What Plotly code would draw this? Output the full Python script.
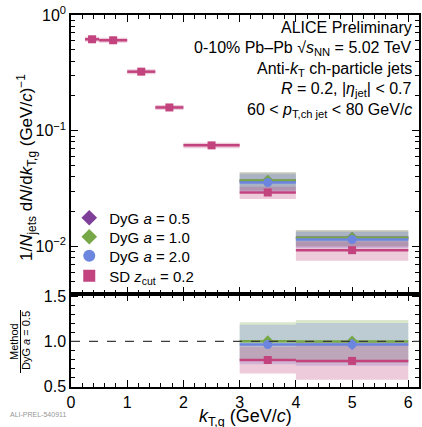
import plotly.graph_objects as go

# ---------------- data ----------------
bin_lo = [0.25, 0.5, 1.0, 1.5, 2.0, 3.0, 4.0]
bin_hi = [0.5, 1.0, 1.5, 2.0, 3.0, 4.0, 6.0]
sd_x = [0.375, 0.75, 1.25, 1.75, 2.5, 3.5, 5.0]
sd_y = [0.617, 0.605, 0.324, 0.159, 0.0748, 0.0293, 0.0093]
sd_stat = [0.010, 0.010, 0.005, 0.0025, 0.0012, 0.0008, 0.0004]
sd_sys_rel = [0.05, 0.05, 0.05, 0.05, 0.055, 0.12, 0.19]

dyg_lo = [3.0, 4.0]
dyg_hi = [4.0, 6.0]
dyg_x = [3.5, 5.0]
dyg05_y = [0.0370, 0.0119]
dyg10_y = [0.0371, 0.0119]
dyg20_y = [0.0357, 0.0115]
dyg_stat = [0.0008, 0.0004]
dyg_sys_rel = [0.18, 0.16]

# ratio to DyG a = 0.5
ratio10_sys = [0.21, 0.24]
ratio20_sys = [0.22, 0.24]
ratiosd_sys = [0.15, 0.21]
ratio10_stat = [0.04, 0.04]
ratio20_stat = [0.05, 0.06]
ratiosd_stat = [0.03, 0.04]

xticks = [0, 1, 2, 3, 4, 5, 6]
ytick_vals = [0.01, 0.1, 1]
ytick_text = ["10<sup>\u22122</sup>", "10<sup>\u22121</sup>", "10<sup>0</sup>"]
ytick_minor = [m * d for d in (0.001, 0.01, 0.1) for m in range(2, 10)]
rtick_vals = [0.5, 1.0, 1.5]
rtick_text = ["0.5", "1.0", "1.5"]

labels = ["DyG <i>a</i> = 0.5", "DyG <i>a</i> = 1.0", "DyG <i>a</i> = 2.0",
          "SD <i>z</i><sub>cut</sub> = 0.2"]
header_lines = [
    "ALICE Preliminary",
    "0-10% Pb\u2013Pb \u221a<i>s</i><sub>NN</sub> = 5.02 TeV",
    "Anti-<i>k</i><sub>T</sub> ch-particle jets",
    "<i>R</i> = 0.2, |<i>\u03b7</i><sub>jet</sub>| < 0.7",
    "60 < <i>p</i><sub>T,ch jet</sub> < 80 GeV/<i>c</i>",
]

# ---------------- styles ----------------
C_PUR = "rgb(127,63,152)"
C_GRN = "rgb(118,168,72)"
C_BLU = "rgb(108,134,224)"
C_PNK = "rgb(194,67,126)"
F_PUR = "rgba(127,63,152,0.25)"
F_GRN = "rgba(118,168,72,0.27)"
F_BLU = "rgba(108,134,224,0.27)"
F_PNK = "rgba(194,67,126,0.28)"
FONT = "Liberation Sans"


def boxes(lo, hi, low_vals, high_vals):
    xs, ys = [], []
    for a, b, l, h in zip(lo, hi, low_vals, high_vals):
        xs += [a, b, b, a, a, None]
        ys += [l, l, h, h, l, None]
    return xs, ys


def box_trace(lo, hi, low_vals, high_vals, fill, xa, ya):
    xs, ys = boxes(lo, hi, low_vals, high_vals)
    return go.Scatter(x=xs, y=ys, mode="lines", fill="toself", fillcolor=fill,
                      line=dict(width=0), hoverinfo="skip", showlegend=False,
                      xaxis=xa, yaxis=ya)


def pts(x, y, lo, hi, stat, color, symbol, size, name, xa, ya, legend, lg="legend"):
    return go.Scatter(
        x=x, y=y, mode="markers", name=name, showlegend=legend, legend=lg,
        marker=dict(color=color, symbol=symbol, size=size, line=dict(width=0)),
        error_x=dict(type="data", symmetric=False,
                     array=[h - c for h, c in zip(hi, x)],
                     arrayminus=[c - l for l, c in zip(lo, x)],
                     color=color, thickness=2.5, width=0),
        error_y=dict(type="data", array=stat, color=color, thickness=2, width=0),
        xaxis=xa, yaxis=ya)


fig = go.Figure()

# ---- top panel systematic boxes ----
fig.add_trace(box_trace(dyg_lo, dyg_hi, [v * (1 - s) for v, s in zip(dyg05_y, dyg_sys_rel)],
                        [v * (1 + s) for v, s in zip(dyg05_y, dyg_sys_rel)], F_PUR, "x", "y"))
fig.add_trace(box_trace(dyg_lo, dyg_hi, [v * (1 - s) for v, s in zip(dyg10_y, dyg_sys_rel)],
                        [v * (1 + s) for v, s in zip(dyg10_y, dyg_sys_rel)], F_GRN, "x", "y"))
fig.add_trace(box_trace(dyg_lo, dyg_hi, [v * (1 - s) for v, s in zip(dyg20_y, dyg_sys_rel)],
                        [v * (1 + s) for v, s in zip(dyg20_y, dyg_sys_rel)], F_BLU, "x", "y"))
fig.add_trace(box_trace(bin_lo, bin_hi, [v * (1 - s) for v, s in zip(sd_y, sd_sys_rel)],
                        [v * (1 + s) for v, s in zip(sd_y, sd_sys_rel)], F_PNK, "x", "y"))

# ---- top panel points ----
fig.add_trace(pts(dyg_x, dyg05_y, dyg_lo, dyg_hi, dyg_stat, C_PUR, "diamond", 9, labels[0], "x", "y", True, "legend"))
fig.add_trace(pts(dyg_x, dyg10_y, dyg_lo, dyg_hi, dyg_stat, C_GRN, "diamond", 9, labels[1], "x", "y", True, "legend2"))
fig.add_trace(pts(dyg_x, dyg20_y, dyg_lo, dyg_hi, dyg_stat, C_BLU, "circle", 9, labels[2], "x", "y", True, "legend3"))
fig.add_trace(pts(sd_x, sd_y, bin_lo, bin_hi, sd_stat, C_PNK, "square", 8, labels[3], "x", "y", True, "legend4"))

# ---- ratio panel ----
r10 = [a / b for a, b in zip(dyg10_y, dyg05_y)]
r20 = [a / b for a, b in zip(dyg20_y, dyg05_y)]
rsd = [a / b for a, b in zip(sd_y[-2:], dyg05_y)]

fig.add_trace(box_trace(dyg_lo, dyg_hi, [v - s for v, s in zip(r10, ratio10_sys)],
                        [v + s for v, s in zip(r10, ratio10_sys)], F_GRN, "x2", "y2"))
fig.add_trace(box_trace(dyg_lo, dyg_hi, [v - s for v, s in zip(r20, ratio20_sys)],
                        [v + s for v, s in zip(r20, ratio20_sys)], F_BLU, "x2", "y2"))
fig.add_trace(box_trace(dyg_lo, dyg_hi, [v - s for v, s in zip(rsd, ratiosd_sys)],
                        [v + s for v, s in zip(rsd, ratiosd_sys)], F_PNK, "x2", "y2"))
fig.add_trace(pts(dyg_x, r10, dyg_lo, dyg_hi, ratio10_stat, C_GRN, "diamond", 9, labels[1], "x2", "y2", False))
fig.add_trace(pts(dyg_x, r20, dyg_lo, dyg_hi, ratio20_stat, C_BLU, "circle", 9, labels[2], "x2", "y2", False))
fig.add_trace(pts(dyg_x, rsd, dyg_lo, dyg_hi, ratiosd_stat, C_PNK, "square", 8, labels[3], "x2", "y2", False))

axis_common = dict(showline=True, linecolor="black", linewidth=1.5, mirror="ticks",
                   ticks="inside", ticklen=7, tickwidth=1.2, tickcolor="black",
                   showgrid=False, zeroline=False, automargin=False,
                   tickfont=dict(family=FONT, size=16, color="black"))


def leg(ypx):
    return dict(x=-0.005, y=1 - (ypx - 15) / 372, xanchor="left", yanchor="middle",
                bgcolor="rgba(0,0,0,0)", font=dict(family=FONT, size=15),
                itemsizing="constant")


fig.update_layout(
    width=422, height=427,
    margin=dict(l=71, r=3, t=15, b=40),
    paper_bgcolor="white", plot_bgcolor="white",
    font=dict(family=FONT, color="black"),
    xaxis=dict(domain=[0, 1], range=[0, 6.19], anchor="y", showticklabels=False,
               tickvals=xticks, minor=dict(dtick=0.2, ticks="inside", ticklen=4,
                                           tickcolor="black"), **axis_common),
    yaxis=dict(domain=[0.25, 1], type="log", range=[-2.41, 0], anchor="x",
               tickvals=ytick_vals, ticktext=ytick_text,
               minor=dict(tickvals=ytick_minor, ticks="inside", ticklen=4,
                          tickcolor="black"), **axis_common),
    xaxis2=dict(domain=[0, 1], range=[0, 6.19], anchor="y2", matches="x",
                tickvals=xticks, minor=dict(dtick=0.2, ticks="inside", ticklen=4,
                                            tickcolor="black"), **axis_common),
    yaxis2=dict(domain=[0, 0.25], range=[0.49, 1.53], anchor="x2",
                tickvals=rtick_vals, ticktext=rtick_text,
                minor=dict(dtick=0.1, tick0=0, ticks="inside", ticklen=4,
                           tickcolor="black"), **axis_common),
    legend=leg(218), legend2=leg(237), legend3=leg(256), legend4=leg(276),
    showlegend=True,
)

# dashed unity line in ratio panel
fig.add_shape(type="line", xref="x2 domain", yref="y2", x0=0, x1=1, y0=1, y1=1,
              line=dict(color="rgb(60,60,60)", width=1.3, dash="dash"))

# header text
for i, t in enumerate(header_lines):
    ypx = 28 + 20.5 * i
    fig.add_annotation(text=t, xref="paper", yref="paper", x=(414 - 71) / 348,
                       y=1 - (ypx - 15) / 372, xanchor="right", yanchor="middle",
                       showarrow=False, font=dict(family=FONT, size=16))

# y titles
fig.add_annotation(text="1/<i>N</i><sub>jets</sub> d<i>N</i>/d<i>k</i><sub>T,g</sub> (GeV/<i>c</i>)<sup>\u22121</sup>",
                   xref="paper", yref="paper", x=(26 - 71) / 348, y=1 - (168 - 15) / 372,
                   xanchor="center", yanchor="middle", textangle=-90, showarrow=False,
                   font=dict(family=FONT, size=17))
fig.add_annotation(text="Method", xref="paper", yref="paper",
                   x=(14 - 71) / 348, y=1 - (342 - 15) / 372, xanchor="center",
                   yanchor="middle", textangle=-90, showarrow=False,
                   font=dict(family=FONT, size=11))
fig.add_annotation(text="DyG <i>a</i> = 0.5", xref="paper", yref="paper",
                   x=(26 - 71) / 348, y=1 - (341 - 15) / 372, xanchor="center",
                   yanchor="middle", textangle=-90, showarrow=False,
                   font=dict(family=FONT, size=11))
fig.add_shape(type="line", xref="paper", yref="paper",
              x0=(20.5 - 71) / 348, x1=(20.5 - 71) / 348,
              y0=1 - (310 - 15) / 372, y1=1 - (373 - 15) / 372,
              line=dict(color="black", width=1))

# x title
fig.add_annotation(text="<i>k</i><sub>T,g</sub> (GeV/<i>c</i>)", xref="paper", yref="paper",
                   x=0.5, y=(387 - 417) / 372, xanchor="center", yanchor="middle",
                   showarrow=False, font=dict(family=FONT, size=18))

# preliminary id
fig.add_annotation(text="ALI-PREL-540911", xref="paper", yref="paper",
                   x=(8 - 71) / 348, y=(387 - 414) / 372, xanchor="left", yanchor="middle",
                   showarrow=False, font=dict(family=FONT, size=7, color="rgb(150,150,150)"))

fig.write_html("out.html", config={"displayModeBar": False},
               post_script="document.body.style.margin='0';document.body.style.padding='0';")
